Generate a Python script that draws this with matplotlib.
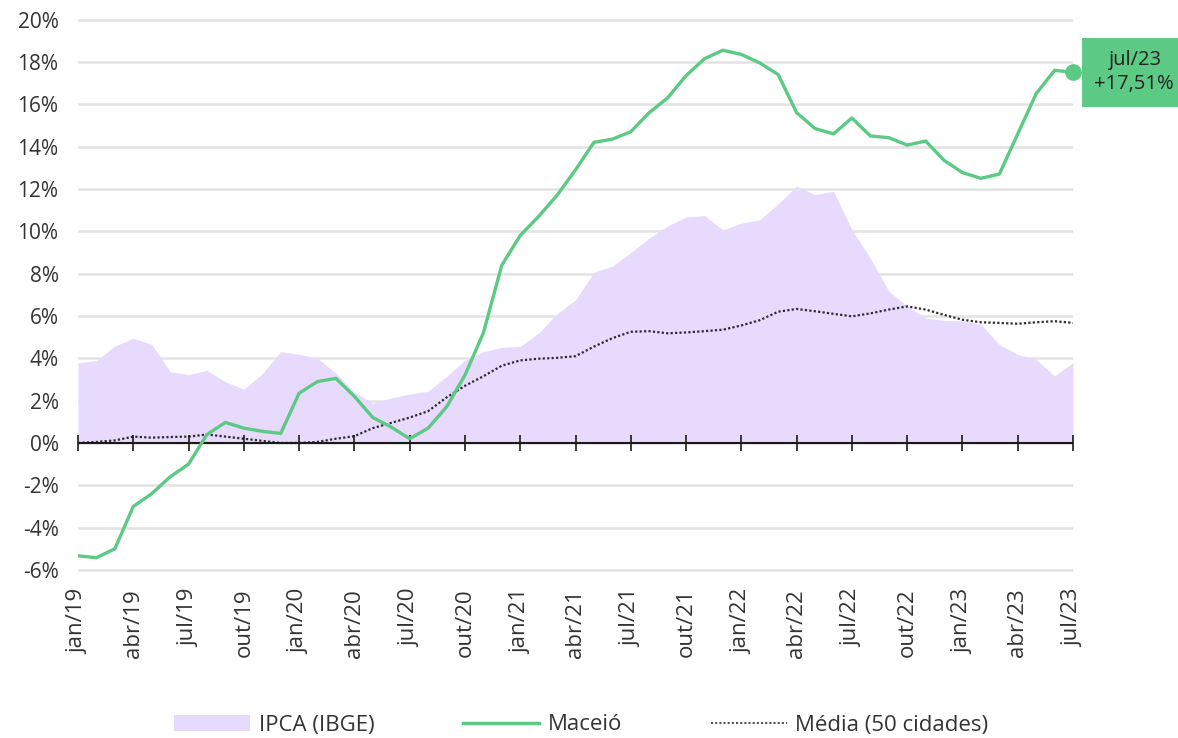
# plot.py
#
# 12-month inflation: IPCA vs Maceió vs average of 50 cities, jan/19 to jul/23

import numpy as np
import matplotlib
matplotlib.use("Agg")
import matplotlib.pyplot as plt
from matplotlib.lines import Line2D
from matplotlib.patches import Patch

# quarterly tick labels (one every 3 months)
TICK_LABELS = ["jan/19", "abr/19", "jul/19", "out/19",
               "jan/20", "abr/20", "jul/20", "out/20",
               "jan/21", "abr/21", "jul/21", "out/21",
               "jan/22", "abr/22", "jul/22", "out/22",
               "jan/23", "abr/23", "jul/23"]

# monthly values, jan/19 .. jul/23 (%)
IPCA = [3.78, 3.89, 4.58, 4.94, 4.66, 3.37, 3.22, 3.43, 2.89, 2.54, 3.27, 4.31,
        4.19, 4.00, 3.30, 2.40, 1.88, 2.13, 2.31, 2.44, 3.14, 3.92, 4.31, 4.52,
        4.56, 5.20, 6.10, 6.76, 8.06, 8.35, 8.99, 9.68, 10.25, 10.67, 10.74, 10.06,
        10.38, 10.54, 11.30, 12.13, 11.73, 11.89, 10.07, 8.73, 7.17, 6.47, 5.90, 5.79,
        5.77, 5.60, 4.65, 4.18, 3.94, 3.16, 3.80]

MACEIO = [-5.33, -5.42, -5.00, -3.00, -2.40, -1.60, -1.00, 0.40, 0.97, 0.70, 0.55, 0.45,
          2.35, 2.90, 3.05, 2.20, 1.20, 0.75, 0.20, 0.70, 1.70, 3.20, 5.20, 8.40,
          9.80, 10.70, 11.70, 12.90, 14.20, 14.35, 14.70, 15.60, 16.30, 17.35, 18.15, 18.55,
          18.35, 17.95, 17.40, 15.60, 14.85, 14.60, 15.35, 14.50, 14.42, 14.07, 14.26, 13.35,
          12.77, 12.50, 12.70, 14.60, 16.50, 17.60, 17.51]

MEDIA = [0.00, 0.05, 0.12, 0.30, 0.25, 0.28, 0.30, 0.40, 0.30, 0.20, 0.10, 0.00,
         0.00, 0.05, 0.20, 0.32, 0.70, 0.95, 1.20, 1.50, 2.15, 2.70, 3.15, 3.65,
         3.90, 3.98, 4.02, 4.10, 4.55, 4.95, 5.25, 5.28, 5.18, 5.22, 5.28, 5.35,
         5.55, 5.80, 6.20, 6.33, 6.22, 6.10, 5.98, 6.12, 6.30, 6.45, 6.30, 6.05,
         5.82, 5.70, 5.67, 5.63, 5.70, 5.75, 5.67]

Y_TICKS = list(range(-6, 21, 2))

GREEN = "#5cc985"
LAVENDER = "#e8dafd"
TEXT = "#333333"

plt.rcParams["font.family"] = ["Open Sans", "DejaVu Sans"]


def draw_chart(filename):
    """ Draws the chart and saves it. """
    fig = plt.figure(figsize=(11.78, 7.38), dpi=100)
    ax = fig.add_axes([0.0662, 0.2248, 0.8447, 0.7516])

    x = np.arange(len(MACEIO))
    quarters = x[::3]

    ax.fill_between(x, 0, IPCA, color=LAVENDER, lw=0, zorder=2)
    ax.plot(x, MEDIA, color="#2b2b2b", lw=1.6, ls=(0, (1, 1)), zorder=3)
    ax.plot(x, MACEIO, color=GREEN, lw=2.4, zorder=5, solid_capstyle="round")
    ax.plot(x[-1], MACEIO[-1], "o", color=GREEN, ms=11, zorder=6, clip_on=False)

    # zero line with quarter ticks across it
    ax.axhline(0, color="#1a1a1a", lw=1.5, zorder=4)
    ax.plot(quarters, np.zeros(len(quarters)), ls="none", marker="|", ms=12,
            mew=1.2, color="#1a1a1a", zorder=4, clip_on=False)

    ax.set_xlim(0, len(MACEIO) - 1)
    ax.set_ylim(-6.1, 20.1)
    ax.set_xticks(quarters, TICK_LABELS, rotation=90, fontsize=16, color=TEXT)
    ax.set_yticks(Y_TICKS, ["{}%".format(v) for v in Y_TICKS], fontsize=15, color=TEXT)
    ax.tick_params(axis="x", length=0, pad=12)
    ax.tick_params(axis="y", length=0, pad=14)

    ax.set_axisbelow(True)
    ax.yaxis.grid(True, color="#e2e2e2", lw=1.8)
    for s in ax.spines.values():
        s.set_visible(False)

    # last value callout
    last = "{}\n+{:.2f}%".format(TICK_LABELS[-1], MACEIO[-1]).replace(".", ",")
    ax.annotate(last, xy=(x[-1], MACEIO[-1]), xytext=(44, 0), textcoords="offset points",
                ha="center", va="center", fontsize=14.5, color="#222222", linespacing=1.3,
                bbox=dict(boxstyle="square,pad=0.6", fc=GREEN, ec="none"),
                annotation_clip=False, zorder=7)

    handles = [
        Patch(facecolor=LAVENDER, edgecolor="none", label="IPCA (IBGE)"),
        Line2D([], [], color=GREEN, lw=2.5, label="Maceió"),
        Line2D([], [], color="#555555", lw=1.5, ls=(0, (1, 1)), label="Média (50 cidades)"),
    ]
    fig.legend(handles=handles, loc="center", bbox_to_anchor=(0.4936, 1 - 725 / 738),
               ncol=3, frameon=False, fontsize=16, handlelength=3.4, handleheight=0.75,
               handletextpad=0.4, columnspacing=4.0, labelcolor=TEXT)

    fig.savefig(filename, dpi=100)
    plt.close(fig)


if __name__ == "__main__":
    draw_chart("out.png")
